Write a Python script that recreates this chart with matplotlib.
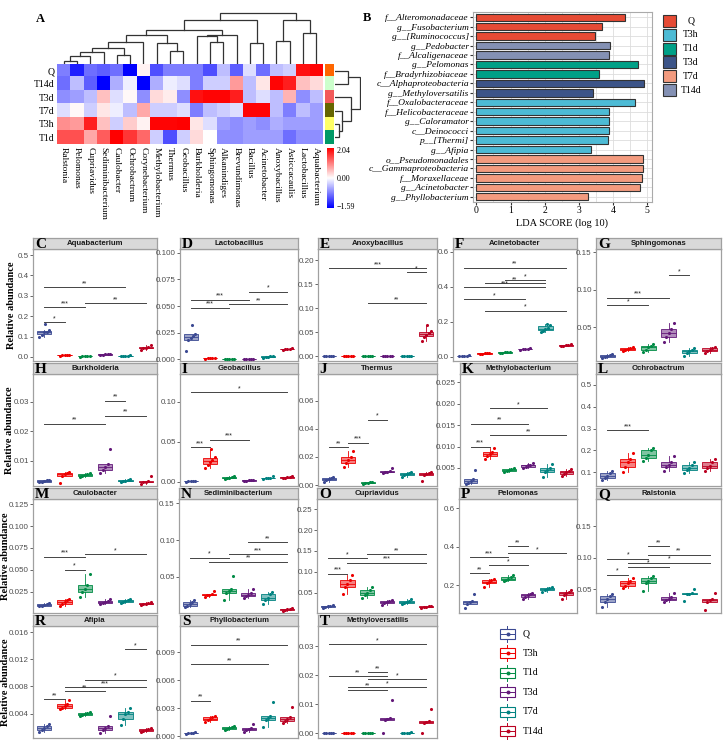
import numpy as np
import matplotlib
matplotlib.use("Agg")
import matplotlib.pyplot as plt
from matplotlib.colors import LinearSegmentedColormap, TwoSlopeNorm
from matplotlib.patches import Rectangle

W, H = 728, 751
SERIF = "Liberation Serif"
SANS = "Liberation Sans"
plt.rcParams["font.family"] = SANS

GROUPS = ["Q", "T3h", "T1d", "T3d", "T7d", "T14d"]
BOX_COLORS = ["#3B4992", "#EE0000", "#008B45", "#631879", "#008280", "#BB0021"]

# ---- panel A: z-score heatmap ----
HM_ROWS = ["Q", "T14d", "T3d", "T7d", "T3h", "T1d"]
HM_COLS = ["Ralstonia", "Pelomonas", "Cupriavidus", "Sediminibacterium", "Caulobacter",
           "Ochrobactrum", "Corynebacterium", "Methylobacterium", "Thermus", "Geobacillus",
           "Burkholderia", "Sphingomonas", "Alkanindiges", "Brevundimonas", "Bacillus",
           "Acinetobacter", "Anoxybacillus", "Asticcacaulis", "Lactobacillus", "Aquabacterium"]
HM_Q = [-0.8, -1.4, -0.9, -1.0, -0.9, -1.59, 0.1, -1.1, -0.8, -0.8, -0.8, -1.1, -0.4, -1.0, -0.2, -0.9, -0.4, -0.3, 1.9, 2.0]
HM_T14D = [-0.9, -0.4, -1.0, -1.59, -0.5, -0.1, -1.59, -0.5, -0.1, -0.2, -0.8, -0.3, -0.3, 0.8, -0.4, 0.2, 2.0, 1.8, 0.5, 0.3]
HM_T3D = [-0.7, -0.6, -0.4, 0.5, -0.2, 0.05, -0.7, 0.3, 0.15, -0.7, 1.9, 2.0, 2.0, 1.8, -0.4, -0.2, -0.4, 0.6, -0.7, -0.4]
HM_T7D = [-0.2, 0.05, -0.3, 0.2, -0.1, -0.4, 0.7, -0.3, -0.3, -0.2, -0.8, -0.4, -0.3, -0.2, 2.0, 2.0, -0.4, -0.8, -0.4, -0.6]
HM_T3H = [0.9, 0.8, 1.8, 0.5, -0.3, 0.4, 0.1, 2.0, 2.0, 2.04, 0.2, -0.2, -0.6, -0.7, -0.6, -0.7, -0.5, -0.6, -0.6, -0.6]
HM_T1D = [1.4, 1.4, 0.7, 1.3, 2.04, 1.6, 1.2, -0.3, -1.1, -0.3, 0.3, 0.0, -0.7, -0.7, -0.6, -0.6, -0.6, -0.9, -0.7, -0.7]
HM_ROW_COLORS = ["#FF6600", "#CCFFCC", "#F25A5A", "#666600", "#FFFF66", "#009966"]
HM_MIN, HM_MAX = -1.59, 2.04
# merges: (a, b, height); ids >= n are earlier merges, in order
COL_MERGES = [(0, 1, 10), (20, 2, 23), (21, 3, 35), (4, 5, 28), (22, 23, 50), (24, 6, 68),
              (8, 9, 38), (7, 26, 65), (25, 27, 88), (11, 12, 68), (10, 29, 85), (30, 13, 88),
              (28, 31, 103), (14, 15, 63), (32, 33, 133), (16, 17, 70), (18, 19, 95),
              (35, 36, 135), (34, 37, 155)]
ROW_MERGES = [(0, 1, 35), (4, 5, 10), (3, 7, 20), (2, 8, 45), (6, 9, 70)]

# ---- panel B: LEfSe ----
LDA_TAXA = ["f__Alteromonadaceae", "g__Fusobacterium", "g__[Ruminococcus]", "g__Pedobacter",
            "f__Alcaligenaceae", "g__Pelomonas", "f__Bradyrhizobiaceae", "c__Alphaproteobacteria",
            "g__Methyloversatilis", "f__Oxalobacteraceae", "f__Helicobacteraceae", "g__Caloramator",
            "c__Deinococci", "p__[Thermi]", "g__Afipia", "o__Pseudomonadales",
            "c__Gammaproteobacteria", "f__Moraxellaceae", "g__Acinetobacter", "g__Phyllobacterium"]
LDA_SCORES = [4.37, 3.69, 3.47, 3.91, 3.90, 4.75, 3.61, 4.91, 3.41, 4.65,
              3.90, 3.89, 3.88, 3.86, 3.35, 4.88, 4.88, 4.86, 4.81, 3.28]
LDA_GROUP = ["Q", "Q", "Q", "T14d", "T14d", "T1d", "T1d", "T3d", "T3d", "T3h",
             "T3h", "T3h", "T3h", "T3h", "T3h", "T7d", "T7d", "T7d", "T7d", "T7d"]
LDA_COLORS = {"Q": "#E64B35", "T3h": "#4DBBD5", "T1d": "#00A087",
              "T3d": "#3C5488", "T7d": "#F39B7F", "T14d": "#8491B4"}

# ---- panels C-T: relative abundance per sample (Q, T3h, T1d, T3d, T7d, T14d) ----
AQUABACTERIUM = [[0.10, 0.11, 0.12, 0.12, 0.13, 0.16], [0.006, 0.008, 0.009, 0.010, 0.011],
                 [0.002, 0.003, 0.004, 0.004, 0.005], [0.010, 0.011, 0.012, 0.013, 0.014],
                 [0.003, 0.005, 0.006, 0.007, 0.009], [0.035, 0.042, 0.046, 0.050, 0.060]]
LACTOBACILLUS = [[0.008, 0.018, 0.020, 0.022, 0.024, 0.032], [0.0008, 0.0010, 0.0012, 0.0013, 0.0015],
                 [0.0002, 0.0003, 0.0003, 0.0004, 0.0005], [0.0003, 0.0004, 0.0005, 0.0006, 0.0007],
                 [0.0015, 0.0020, 0.0025, 0.0030, 0.0035], [0.0090, 0.0095, 0.0100, 0.0102, 0.0108]]
ANOXYBACILLUS = [[0.0, 0.0002, 0.0003, 0.0004, 0.0005], [0.0002, 0.0004, 0.0005, 0.0006, 0.0008],
                 [0.0001, 0.0002, 0.0003, 0.0004, 0.0005], [0.0001, 0.0002, 0.0003, 0.0003, 0.0004],
                 [0.0001, 0.0002, 0.0003, 0.0004, 0.0005], [0.032, 0.040, 0.045, 0.048, 0.052, 0.065]]
ACINETOBACTER = [[0.003, 0.005, 0.006, 0.008, 0.010], [0.015, 0.018, 0.020, 0.022, 0.025],
                 [0.022, 0.025, 0.027, 0.028, 0.030], [0.040, 0.043, 0.045, 0.048, 0.050],
                 [0.140, 0.150, 0.160, 0.165, 0.180, 0.190], [0.060, 0.063, 0.066, 0.068, 0.072]]
SPHINGOMONAS = [[0.009, 0.010, 0.012, 0.013, 0.014], [0.018, 0.020, 0.021, 0.022, 0.024],
                [0.017, 0.020, 0.023, 0.025, 0.027], [0.030, 0.037, 0.042, 0.047, 0.055],
                [0.011, 0.016, 0.018, 0.020, 0.022], [0.016, 0.018, 0.020, 0.022, 0.024]]
BURKHOLDERIA = [[0.0028, 0.0030, 0.0032, 0.0034, 0.0036], [0.0025, 0.0048, 0.0055, 0.0058, 0.0062],
                [0.0045, 0.0050, 0.0053, 0.0056, 0.0060], [0.0058, 0.0068, 0.0078, 0.0088, 0.0140],
                [0.0028, 0.0031, 0.0033, 0.0035, 0.0038], [0.0022, 0.0027, 0.0030, 0.0033, 0.0048]]
GEOBACILLUS = [[0.0005, 0.0008, 0.0010, 0.0012, 0.0015], [0.018, 0.021, 0.025, 0.028, 0.031, 0.041],
               [0.004, 0.005, 0.005, 0.006, 0.007], [0.001, 0.0015, 0.002, 0.0025, 0.003],
               [0.004, 0.0045, 0.005, 0.0055, 0.007], [0.005, 0.0055, 0.006, 0.0065, 0.0075]]
THERMUS = [[0.0025, 0.0038, 0.0045, 0.0050, 0.0055], [0.013, 0.016, 0.018, 0.020, 0.024],
           [0.0008, 0.0012, 0.0015, 0.0018, 0.0022], [0.0085, 0.0090, 0.0095, 0.0098, 0.0120],
           [0.0055, 0.0068, 0.0078, 0.0088, 0.0095], [0.0030, 0.0072, 0.0080, 0.0088, 0.0095]]
METHYLOBACTERIUM = [[0.0012, 0.0016, 0.0020, 0.0024, 0.0045], [0.0072, 0.0078, 0.0083, 0.0088, 0.0096],
                    [0.0040, 0.0043, 0.0046, 0.0048, 0.0050], [0.0050, 0.0053, 0.0056, 0.0058, 0.0062],
                    [0.0030, 0.0040, 0.0045, 0.0050, 0.0060], [0.0032, 0.0036, 0.0040, 0.0043, 0.0048]]
OCHROBACTRUM = [[0.065, 0.075, 0.085, 0.095, 0.105], [0.100, 0.125, 0.145, 0.160, 0.190],
                [0.150, 0.165, 0.180, 0.200, 0.210], [0.105, 0.125, 0.135, 0.145, 0.175],
                [0.095, 0.110, 0.120, 0.135, 0.145], [0.105, 0.120, 0.130, 0.145, 0.160]]
CAULOBACTER = [[0.008, 0.009, 0.010, 0.011, 0.012], [0.008, 0.011, 0.013, 0.015, 0.017],
               [0.019, 0.024, 0.028, 0.033, 0.045], [0.011, 0.012, 0.013, 0.014, 0.016],
               [0.012, 0.013, 0.014, 0.015, 0.016], [0.010, 0.011, 0.011, 0.012, 0.013]]
SEDIMINIBACTERIUM = [[0.009, 0.011, 0.013, 0.016, 0.019], [0.023, 0.025, 0.026, 0.027, 0.031],
                     [0.019, 0.028, 0.031, 0.034, 0.051], [0.022, 0.024, 0.026, 0.028, 0.034],
                     [0.013, 0.018, 0.022, 0.027, 0.030], [0.004, 0.005, 0.006, 0.007, 0.008]]
CUPRIAVIDUS = [[0.015, 0.017, 0.018, 0.019, 0.021], [0.048, 0.065, 0.072, 0.080, 0.092],
               [0.038, 0.045, 0.050, 0.057, 0.065], [0.022, 0.026, 0.028, 0.030, 0.032],
               [0.023, 0.026, 0.028, 0.030, 0.036], [0.015, 0.016, 0.017, 0.018, 0.019]]
PELOMONAS = [[0.085, 0.105, 0.112, 0.118, 0.155], [0.190, 0.212, 0.220, 0.228, 0.232],
             [0.225, 0.230, 0.235, 0.242, 0.252], [0.130, 0.140, 0.148, 0.155, 0.160],
             [0.168, 0.174, 0.179, 0.184, 0.190], [0.130, 0.150, 0.158, 0.165, 0.175]]
RALSTONIA = [[0.022, 0.030, 0.035, 0.040, 0.042], [0.052, 0.056, 0.060, 0.064, 0.068],
             [0.048, 0.060, 0.064, 0.068, 0.072], [0.030, 0.033, 0.035, 0.038, 0.044],
             [0.032, 0.042, 0.043, 0.044, 0.050], [0.017, 0.030, 0.033, 0.035, 0.045]]
AFIPIA = [[0.0013, 0.0016, 0.0019, 0.0022, 0.0025], [0.0046, 0.0048, 0.0051, 0.0054, 0.0060],
          [0.0036, 0.0038, 0.0039, 0.0041, 0.0043], [0.0012, 0.0016, 0.0019, 0.0021, 0.0036],
          [0.0023, 0.0032, 0.0039, 0.0043, 0.0048], [0.0013, 0.0015, 0.0016, 0.0017, 0.0018]]
PHYLLOBACTERIUM = [[0.0002, 0.0003, 0.0003, 0.0003, 0.0004], [0.0015, 0.0017, 0.0018, 0.0020, 0.0022],
                   [0.0007, 0.0008, 0.0009, 0.0010, 0.0011], [0.0004, 0.0007, 0.0008, 0.0009, 0.0013],
                   [0.0010, 0.0017, 0.0019, 0.0022, 0.0037], [0.0014, 0.0016, 0.0018, 0.0021, 0.0031]]
METHYLOVERSATILIS = [[0.0, 0.0, 0.0, 0.0, 0.0], [0.0, 0.0, 0.0, 0.0, 0.0], [0.0, 0.0, 0.0, 0.0, 0.0],
                     [0.0, 0.0045, 0.0050, 0.0053, 0.0113], [0.0, 0.0, 0.0, 0.0001, 0.0002],
                     [0.0, 0.0035, 0.0038, 0.0040, 0.0083]]

# significance brackets: (group1, group2, y, label)
SIG_AQUABACTERIUM = [("Q", "T3h", 0.17, "*"), ("Q", "T1d", 0.245, "***"),
                     ("T1d", "T14d", 0.265, "**"), ("Q", "T7d", 0.343, "**")]
SIG_LACTOBACILLUS = [("Q", "T1d", 0.0484, "***"), ("Q", "T3d", 0.0558, "***"),
                     ("T1d", "T14d", 0.052, "**"), ("T3d", "T14d", 0.0635, "*")]
SIG_ANOXYBACILLUS = [("Q", "T14d", 0.183, "***"), ("T7d", "T14d", 0.175, "*"), ("T1d", "T14d", 0.11, "**")]
SIG_ACINETOBACTER = [("Q", "T14d", 0.51, "**"), ("T1d", "T7d", 0.44, "*"), ("T3h", "T7d", 0.42, "**"),
                     ("Q", "T7d", 0.398, "***"), ("Q", "T3d", 0.33, "*"), ("T3h", "T14d", 0.265, "*")]
SIG_SPHINGOMONAS = [("T3d", "T7d", 0.119, "*"), ("Q", "T3d", 0.089, "***"), ("Q", "T1d", 0.079, "*")]
SIG_BURKHOLDERIA = [("T3d", "T7d", 0.0304, "**"), ("T3d", "T14d", 0.0253, "**"), ("Q", "T3d", 0.0227, "**")]
SIG_GEOBACILLUS = [("Q", "T14d", 0.1125, "*"), ("T3h", "T3d", 0.053, "***"), ("Q", "T3h", 0.0438, "***")]
SIG_THERMUS = [("Q", "T3h", 0.027, "**"), ("T3h", "T1d", 0.030, "***"), ("T1d", "T3d", 0.0464, "*")]
SIG_METHYLOBACTERIUM = [("Q", "T3h", 0.0100, "***"), ("Q", "T3d", 0.0153, "**"),
                        ("T3h", "T7d", 0.019, "*"), ("T3h", "T14d", 0.0126, "**")]
SIG_OCHROBACTRUM = [("Q", "T1d", 0.292, "***")]
SIG_CAULOBACTER = [("Q", "T1d", 0.065, "***"), ("T1d", "T14d", 0.068, "*"), ("T3h", "T1d", 0.050, "*")]
SIG_SEDIMINIBACTERIUM = [("T3d", "T14d", 0.0972, "**"), ("T1d", "T14d", 0.081, "***"),
                         ("Q", "T1d", 0.0764, "*"), ("T3h", "T14d", 0.0708, "**")]
SIG_CUPRIAVIDUS = [("Q", "T3h", 0.096, "***"), ("Q", "T1d", 0.133, "*"),
                   ("T1d", "T14d", 0.143, "**"), ("T3h", "T14d", 0.122, "***")]
SIG_PELOMONAS = [("Q", "T3h", 0.262, "**"), ("Q", "T1d", 0.345, "***"), ("T3h", "T3d", 0.305, "*"),
                 ("T1d", "T3d", 0.404, "**"), ("T1d", "T14d", 0.365, "*")]
SIG_RALSTONIA = [("Q", "T3h", 0.0735, "*"), ("Q", "T1d", 0.0984, "*"), ("T3h", "T14d", 0.092, "*"),
                 ("T3h", "T3d", 0.0857, "*"), ("T1d", "T14d", 0.1048, "**"), ("T1d", "T3d", 0.118, "**")]
SIG_AFIPIA = [("Q", "T3h", 0.00614, "**"), ("T7d", "T14d", 0.0135, "*"), ("T1d", "T14d", 0.009, "*"),
              ("T3h", "T14d", 0.00785, "***"), ("T3h", "T3d", 0.0073, "**")]
SIG_PHYLLOBACTERIUM = [("Q", "T14d", 0.0098, "**"), ("Q", "T7d", 0.0077, "**"), ("Q", "T3h", 0.0038, "**")]
SIG_METHYLOVERSATILIS = [("Q", "T14d", 0.0306, "*"), ("T1d", "T3d", 0.021, "**"), ("Q", "T3d", 0.0197, "**"),
                         ("T1d", "T14d", 0.0185, "*"), ("T3h", "T14d", 0.0159, "*"), ("T3h", "T3d", 0.0150, "**")]

# letter, genus, data, brackets, panel box in px (left, strip top, right, bottom), ylim, yticks, format
PANELS = [
    ("C", "Aquabacterium", AQUABACTERIUM, SIG_AQUABACTERIUM, (33, 238, 157, 361), (-0.02, 0.53), [0, 0.1, 0.2, 0.3, 0.4, 0.5], "%.1f"),
    ("D", "Lactobacillus", LACTOBACILLUS, SIG_LACTOBACILLUS, (180, 238, 298, 361), (-0.0015, 0.1035), [0, 0.025, 0.05, 0.075, 0.1], "%.3f"),
    ("E", "Anoxybacillus", ANOXYBACILLUS, SIG_ANOXYBACILLUS, (318, 238, 437, 361), (-0.01, 0.223), [0, 0.05, 0.1, 0.15, 0.2], "%.2f"),
    ("F", "Acinetobacter", ACINETOBACTER, SIG_ACINETOBACTER, (453, 238, 577, 361), (-0.023, 0.617), [0, 0.2, 0.4, 0.6], "%.1f"),
    ("G", "Sphingomonas", SPHINGOMONAS, SIG_SPHINGOMONAS, (596, 238, 721, 361), (0.0047, 0.154), [0.05, 0.1, 0.15], "%.2f"),
    ("H", "Burkholderia", BURKHOLDERIA, SIG_BURKHOLDERIA, (33, 363, 157, 486), (0.0015, 0.0395), [0.01, 0.02, 0.03], "%.2f"),
    ("I", "Geobacillus", GEOBACILLUS, SIG_GEOBACILLUS, (180, 363, 298, 486), (-0.005, 0.135), [0, 0.05, 0.1], "%.2f"),
    ("J", "Thermus", THERMUS, SIG_THERMUS, (318, 363, 437, 486), (-0.0007, 0.079), [0, 0.02, 0.04, 0.06], "%.2f"),
    ("K", "Methylobacterium", METHYLOBACTERIUM, SIG_METHYLOBACTERIUM, (460, 363, 577, 486), (0.0008, 0.0269), [0.005, 0.01, 0.015, 0.02, 0.025], "%.3f"),
    ("L", "Ochrobactrum", OCHROBACTRUM, SIG_OCHROBACTRUM, (596, 363, 721, 486), (0.037, 0.55), [0.1, 0.2, 0.3, 0.4, 0.5], "%.1f"),
    ("M", "Caulobacter", CAULOBACTER, SIG_CAULOBACTER, (33, 488, 157, 613), (0.0005, 0.131), [0.025, 0.05, 0.075, 0.1, 0.125], "%.3f"),
    ("N", "Sediminibacterium", SEDIMINIBACTERIUM, SIG_SEDIMINIBACTERIUM, (179, 488, 298, 613), (0.001, 0.156), [0.05, 0.1, 0.15], "%.2f"),
    ("O", "Cupriavidus", CUPRIAVIDUS, SIG_CUPRIAVIDUS, (317, 488, 437, 613), (0.002, 0.274), [0.05, 0.1, 0.15, 0.2, 0.25], "%.2f"),
    ("P", "Pelomonas", PELOMONAS, SIG_PELOMONAS, (459, 488, 577, 613), (0.057, 0.647), [0.2, 0.4, 0.6], "%.1f"),
    ("Q", "Ralstonia", RALSTONIA, SIG_RALSTONIA, (596, 488, 721, 613), (0.0127, 0.193), [0.05, 0.1, 0.15], "%.2f"),
    ("R", "Afipia", AFIPIA, SIG_AFIPIA, (33, 615, 157, 738), (0.0004, 0.0169), [0.004, 0.008, 0.012, 0.016], "%.3f"),
    ("S", "Phyllobacterium", PHYLLOBACTERIUM, SIG_PHYLLOBACTERIUM, (180, 615, 298, 738), (-0.0002, 0.0118), [0, 0.003, 0.006, 0.009], "%.3f"),
    ("T", "Methyloversatilis", METHYLOVERSATILIS, SIG_METHYLOVERSATILIS, (318, 615, 437, 738), (-0.0017, 0.0369), [0, 0.01, 0.02, 0.03], "%.2f"),
]

JITTER = [-0.24, -0.12, 0.0, 0.12, 0.24, 0.06]
STRIP_H = 11
YLABEL_X = {238: 12, 363: 10, 488: 6, 615: 6}  # per row: x centre of "Relative abundance"


def px_axes(fig, l, t, r, b):
    return fig.add_axes([l / W, 1 - b / H, (r - l) / W, (b - t) / H])


def draw_tree(ax, n, merges, horizontal=False):
    pos = {i: float(i) for i in range(n)}
    hgt = {i: 0.0 for i in range(n)}
    nid = n
    for a, b, h in merges:
        xs = [pos[a], pos[a], pos[b], pos[b]]
        ys = [hgt[a], h, h, hgt[b]]
        if horizontal:
            ax.plot(ys, xs, color="#333333", lw=0.9, solid_joinstyle="miter")
        else:
            ax.plot(xs, ys, color="#333333", lw=0.9, solid_joinstyle="miter")
        pos[nid] = (pos[a] + pos[b]) / 2
        hgt[nid] = h
        nid += 1


fig = plt.figure(figsize=(W / 100, H / 100), dpi=100)

# ---------------- A ----------------
cmap = LinearSegmentedColormap.from_list("bwr2", ["#0000FF", "#FFFFFF", "#FF0000"])
norm = TwoSlopeNorm(vmin=HM_MIN, vcenter=0.0, vmax=HM_MAX)
hm = np.array([HM_Q, HM_T14D, HM_T3D, HM_T7D, HM_T3H, HM_T1D])

ax_hm = px_axes(fig, 57, 64, 323, 144)
ax_hm.imshow(hm, cmap=cmap, norm=norm, aspect="auto", interpolation="nearest")
ax_hm.set_xticks(range(len(HM_COLS)))
ax_hm.set_xticklabels(HM_COLS, rotation=-90, family=SERIF, fontsize=6.8, va="top")
ax_hm.set_yticks(range(len(HM_ROWS)))
ax_hm.set_yticklabels(HM_ROWS, family=SERIF, fontsize=7)
ax_hm.tick_params(length=0, pad=2)
for s in ax_hm.spines.values():
    s.set_visible(False)

ax_cd = px_axes(fig, 57, 12, 323, 64)
draw_tree(ax_cd, len(HM_COLS), COL_MERGES)
ax_cd.set_xlim(-0.5, len(HM_COLS) - 0.5)
ax_cd.set_ylim(0, 158)
ax_cd.axis("off")

ax_rc = px_axes(fig, 325, 64, 334, 144)
rc_rgb = np.array([[matplotlib.colors.to_rgb(c)] for c in HM_ROW_COLORS])
ax_rc.imshow(rc_rgb, aspect="auto", interpolation="nearest")
ax_rc.axis("off")

ax_rd = px_axes(fig, 335, 64, 361, 144)
draw_tree(ax_rd, len(HM_ROWS), ROW_MERGES, horizontal=True)
ax_rd.set_ylim(len(HM_ROWS) - 0.5, -0.5)
ax_rd.set_xlim(0, 72)
ax_rd.axis("off")

ax_cb = px_axes(fig, 327, 148, 334, 208)
grad = np.linspace(1, 0, 100).reshape(-1, 1)
ax_cb.imshow(grad, cmap=cmap, aspect="auto", extent=[0, 1, 0, 1])
ax_cb.set_xticks([])
ax_cb.yaxis.tick_right()
ax_cb.set_yticks([0.97, 0.5, 0.03])
ax_cb.set_yticklabels(["%.2f" % HM_MAX, "0.00", "\u2212%.2f" % -HM_MIN], family=SERIF, fontsize=5.8)
ax_cb.tick_params(length=0, pad=2)
for s in ax_cb.spines.values():
    s.set_visible(False)

fig.text(40 / W, 1 - 19 / H, "A", family=SERIF, weight="bold", fontsize=9, ha="center", va="center")

# ---------------- B ----------------
ax_b = px_axes(fig, 473, 12, 652, 202)
ypos = np.arange(len(LDA_TAXA))
ax_b.barh(ypos, LDA_SCORES, height=0.78, color=[LDA_COLORS[g] for g in LDA_GROUP],
          edgecolor="#333333", linewidth=0.8, zorder=3)
ax_b.set_ylim(len(LDA_TAXA) - 0.45, -0.55)
ax_b.set_xlim(-0.1, 5.15)
ax_b.set_xticks(range(6))
ax_b.set_xticks(np.arange(0.5, 5.5, 1), minor=True)
ax_b.set_yticks(ypos)
ax_b.set_yticklabels(LDA_TAXA, family=SERIF, style="italic", fontsize=6.8)
ax_b.tick_params(axis="y", length=2, pad=1, color="#333333")
ax_b.tick_params(axis="x", length=2, pad=1, labelsize=7, color="#333333")
ax_b.tick_params(axis="x", which="minor", length=0)
for lab in ax_b.get_xticklabels():
    lab.set_family(SERIF)
ax_b.grid(True, which="both", axis="x", color="#DDDDDD", lw=0.6, zorder=0)
ax_b.grid(True, axis="y", color="#DDDDDD", lw=0.6, zorder=0)
for s in ax_b.spines.values():
    s.set_color("#AAAAAA")
ax_b.set_xlabel("LDA SCORE (log 10)", family=SERIF, fontsize=7.5, labelpad=2)
fig.text(367 / W, 1 - 18 / H, "B", family=SERIF, weight="bold", fontsize=9, ha="center", va="center")

ax_bl = px_axes(fig, 660, 10, 728, 100)
ax_bl.set_xlim(660, 728)
ax_bl.set_ylim(100, 10)
ax_bl.axis("off")
for i, g in enumerate(GROUPS):
    yc = 20.7 + i * 13.9
    ax_bl.add_patch(Rectangle((663, yc - 6), 13, 12, facecolor=LDA_COLORS[g], edgecolor="#333333", lw=0.8))
    ax_bl.text(691, yc, g, family=SERIF, fontsize=7, ha="center", va="center")

# ---------------- C-T ----------------
for letter, genus, data, sigs, (l, t, r, b), ylim, yticks, fmt in PANELS:
    ax = px_axes(fig, l, t + STRIP_H, r, b)
    for i, (vals, col) in enumerate(zip(data, BOX_COLORS)):
        bp = ax.boxplot([vals], positions=[i + 1], widths=0.72, patch_artist=True,
                        showfliers=False, showcaps=False, manage_ticks=False)
        for box in bp["boxes"]:
            box.set_facecolor(matplotlib.colors.to_rgba(col, 0.5))
            box.set_edgecolor(col)
            box.set_linewidth(0.6)
        for key in ("whiskers", "medians"):
            for ln in bp[key]:
                ln.set_color(col)
                ln.set_linewidth(0.6)
        xs = i + 1 + np.array(JITTER[:len(vals)])
        ax.scatter(xs, vals, s=5, color=col, lw=0, zorder=3)
    for g1, g2, y, lab in sigs:
        x1, x2 = GROUPS.index(g1) + 1, GROUPS.index(g2) + 1
        ax.plot([x1, x2], [y, y], color="#444444", lw=0.7)
        ax.text((x1 + x2) / 2, y, lab, ha="center", va="bottom", fontsize=5, color="#222222")
    ax.set_xlim(0.45, 6.55)
    ax.set_ylim(*ylim)
    ax.set_xticks([])
    ax.set_yticks(yticks)
    ax.set_yticklabels([fmt % v for v in yticks], fontsize=5.8, color="#4D4D4D")
    ax.tick_params(axis="y", length=2, width=0.6, pad=1, color="#4D4D4D")
    for s in ax.spines.values():
        s.set_color("#A0A0A0")
        s.set_linewidth(0.9)

    st = px_axes(fig, l, t, r, t + STRIP_H)
    st.set_facecolor("#D9D9D9")
    st.set_xticks([])
    st.set_yticks([])
    for s in st.spines.values():
        s.set_color("#A0A0A0")
        s.set_linewidth(0.9)
    st.text(0.5, 0.5, genus, transform=st.transAxes, ha="center", va="center",
            fontsize=5.6, weight="bold", color="#1A1A1A")
    st.text(0.015, 0.42, letter, transform=st.transAxes, ha="left", va="center",
            family=SERIF, fontsize=11, weight="bold")

    if l < 40:
        fig.text(YLABEL_X[t] / W, 1 - ((t + STRIP_H + b) / 2) / H, "Relative abundance", rotation=90,
                 family=SERIF, weight="bold", fontsize=7.5, ha="center", va="center")

# bottom legend
ax_lg = px_axes(fig, 495, 620, 565, 745)
ax_lg.set_xlim(495, 565)
ax_lg.set_ylim(745, 620)
ax_lg.axis("off")
for i, (g, col) in enumerate(zip(GROUPS, BOX_COLORS)):
    yc = 634 + i * 19.4
    ax_lg.plot([507, 507], [yc - 8, yc + 8], color=col, lw=0.7)
    ax_lg.add_patch(Rectangle((500, yc - 5), 15, 10, facecolor="white", edgecolor=col, lw=0.8, zorder=2))
    ax_lg.plot([500, 515], [yc, yc], color=col, lw=0.7, zorder=3)
    ax_lg.scatter([507.5], [yc], s=8, color=col, zorder=4, lw=0)
    ax_lg.text(523, yc, g, family=SERIF, fontsize=7, ha="left", va="center")

fig.savefig("out.png", dpi=100)
